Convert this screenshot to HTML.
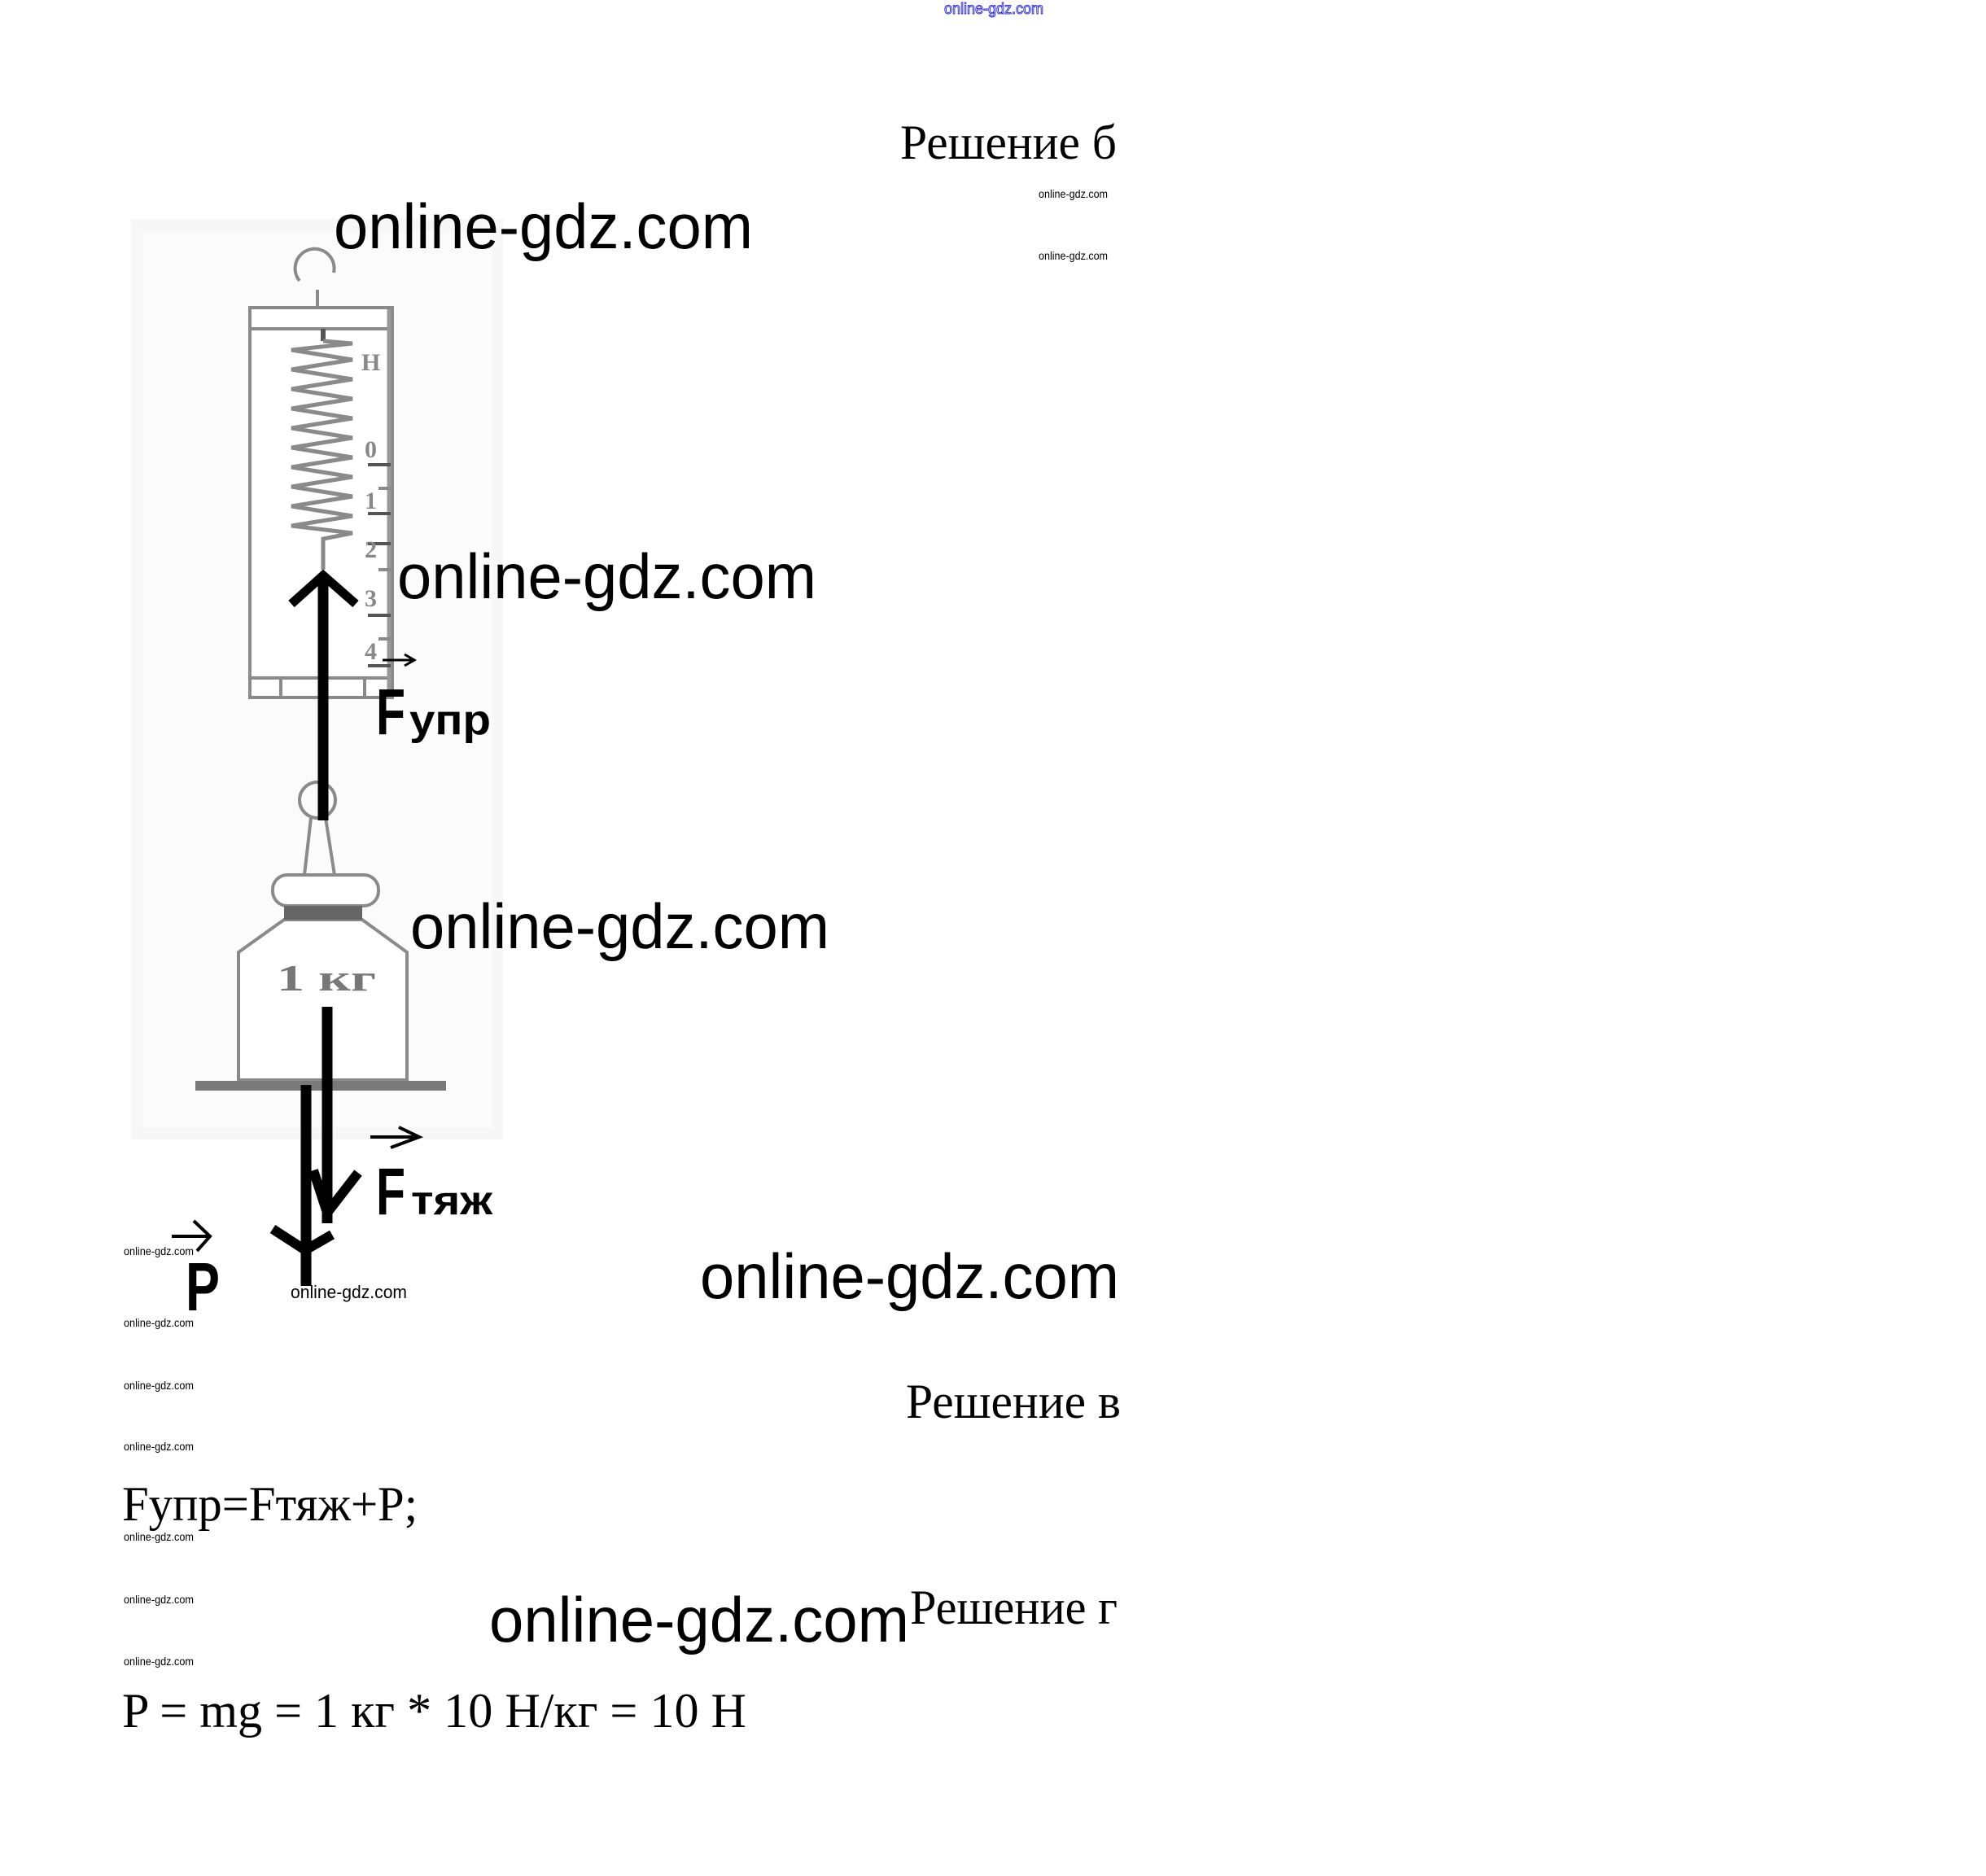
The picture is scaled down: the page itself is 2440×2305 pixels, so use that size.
<!DOCTYPE html>
<html><head><meta charset="utf-8"><style>
html,body{margin:0;padding:0;background:#fff;}
svg{display:block;}
</style></head><body>
<svg width="2440" height="2305" viewBox="0 0 2440 2305" xmlns="http://www.w3.org/2000/svg">
<rect width="2440" height="2305" fill="#fff"/>
<!-- top blue watermark -->
<text x="1160" y="17" font-family="Liberation Sans, sans-serif" font-size="19" fill="#fff" stroke="#3333cc" stroke-width="1" textLength="122" lengthAdjust="spacingAndGlyphs">online-gdz.com</text>

<text x="1106" y="195" font-family="Liberation Serif, serif" font-size="60" fill="#000" textLength="266" lengthAdjust="spacingAndGlyphs">Решение б</text>
<g font-family="Liberation Sans, sans-serif" font-size="14" fill="#000">
<text x="1276" y="243" textLength="85" lengthAdjust="spacingAndGlyphs">online-gdz.com</text>
<text x="1276" y="319" textLength="85" lengthAdjust="spacingAndGlyphs">online-gdz.com</text>
</g>

<!-- diagram background -->
<rect x="161" y="269" width="457" height="1131" fill="#f7f7f7"/>
<rect x="175" y="285" width="430" height="1100" fill="#fbfbfb"/>

<g stroke="#8a8a8a" fill="none" stroke-width="4">
<!-- hook -->
<path d="M368 345 A24 24 0 1 1 410 335"/>
<line x1="390" y1="356" x2="390" y2="378"/>
<!-- box -->
<rect x="307" y="378" width="175" height="479" fill="#fff"/>
<line x1="307" y1="404" x2="482" y2="404"/>
<line x1="307" y1="833" x2="482" y2="833"/>
<line x1="345" y1="833" x2="345" y2="857"/>
<line x1="448" y1="833" x2="448" y2="857"/>
<line x1="478" y1="380" x2="478" y2="855" stroke="#999" stroke-width="5"/>
<!-- spring -->
<line x1="397" y1="404" x2="397" y2="419" stroke="#555" stroke-width="6"/>
<path d="M397 419 L433 422 L358 430 L433 442 L358 454 L433 466 L358 478 L433 490 L358 502 L433 514 L358 526 L433 538 L358 550 L433 562 L358 574 L433 586 L358 598 L433 610 L358 622 L433 634 L358 646 L433 655 L397 662 L397 700" stroke-width="5"/>
<!-- scale ticks -->
<line x1="452" y1="571" x2="480" y2="571" stroke="#555"/>
<line x1="452" y1="631" x2="480" y2="631" stroke="#555"/>
<line x1="452" y1="668" x2="480" y2="668" stroke="#555"/>
<line x1="452" y1="756" x2="480" y2="756" stroke="#555"/>
<line x1="452" y1="818" x2="480" y2="818" stroke="#555"/>
<line x1="465" y1="600" x2="480" y2="600"/>
<line x1="465" y1="700" x2="480" y2="700"/>
<line x1="465" y1="785" x2="480" y2="785"/>
<!-- ring below -->
<circle cx="390" cy="983" r="22"/>
<line x1="382" y1="1005" x2="374" y2="1075"/>
<line x1="400" y1="1005" x2="411" y2="1075"/>
<!-- weight -->
<rect x="335" y="1075" width="130" height="38" rx="18" fill="#fff"/>
<path d="M349 1130 L293 1170 L293 1327 L500 1327 L500 1170 L445 1130 Z" fill="#fff"/>
</g>
<rect x="349" y="1113" width="96" height="17" fill="#666"/>
<line x1="240" y1="1334" x2="548" y2="1334" stroke="#7a7a7a" stroke-width="12"/>
<g font-family="Liberation Serif, serif" fill="#888" font-weight="bold">
<text x="444" y="455" font-size="30">Н</text>
<text x="448" y="562" font-size="30">0</text>
<text x="448" y="625" font-size="30">1</text>
<text x="448" y="685" font-size="30">2</text>
<text x="448" y="745" font-size="30">3</text>
<text x="448" y="810" font-size="30">4</text>
<text x="340" y="1217" font-size="46" fill="#777" textLength="122" lengthAdjust="spacingAndGlyphs">1 кг</text>
</g>

<!-- force arrows -->
<g stroke="#000" fill="none" stroke-linecap="butt">
<line x1="397" y1="1008" x2="397" y2="708" stroke-width="13"/>
<polyline points="358,484 397,710 437,484" stroke-width="0"/>
<polyline points="359,488 397,708 436,488" stroke-width="0"/>
<path d="M358 487 L397 709 L437 487" stroke-width="0"/>
<path d="M358 487 L397 452 L437 487" stroke-width="11" transform="translate(0,255)"/>
<line x1="402" y1="1237" x2="402" y2="1503" stroke-width="13"/>
<path d="M385 1438 L402 1490 L440 1441" stroke-width="12"/>
<line x1="376" y1="1333" x2="376" y2="1580" stroke-width="13"/>
<path d="M335 1510 L375 1536 L408 1517" stroke-width="12"/>
<!-- label arrows -->
<path d="M470 811 L508 811 M497 804 L509 811 L497 818" stroke-width="3"/>
<path d="M455 1397 L515 1397 M490 1385 L515 1397 L480 1410" stroke-width="4"/>
<path d="M211 1519 L258 1519 M238 1500 L258 1519 L242 1537" stroke-width="4"/>
</g>
<g font-family="Liberation Sans, sans-serif" font-weight="bold" fill="#000">
<text x="462" y="902" font-size="80" textLength="36" lengthAdjust="spacingAndGlyphs">F</text>
<text x="503" y="902" font-size="52" textLength="100" lengthAdjust="spacingAndGlyphs">упр</text>
<text x="462" y="1492" font-size="82" textLength="36" lengthAdjust="spacingAndGlyphs">F</text>
<text x="505" y="1492" font-size="50" textLength="100" lengthAdjust="spacingAndGlyphs">тяж</text>
<text x="228" y="1610" font-size="84" textLength="42" lengthAdjust="spacingAndGlyphs">P</text>
</g>

<!-- big watermarks -->
<g font-family="Liberation Sans, sans-serif" font-size="78" fill="#000">
<text x="410" y="305" textLength="515" lengthAdjust="spacingAndGlyphs">online-gdz.com</text>
<text x="488" y="735" textLength="515" lengthAdjust="spacingAndGlyphs">online-gdz.com</text>
<text x="504" y="1165" textLength="515" lengthAdjust="spacingAndGlyphs">online-gdz.com</text>
<text x="860" y="1595" textLength="515" lengthAdjust="spacingAndGlyphs">online-gdz.com</text>
<text x="601" y="2017" textLength="516" lengthAdjust="spacingAndGlyphs">online-gdz.com</text>
</g>
<text x="357" y="1595" font-family="Liberation Sans, sans-serif" font-size="22" fill="#000" textLength="143" lengthAdjust="spacingAndGlyphs">online-gdz.com</text>
<g font-family="Liberation Sans, sans-serif" font-size="14" fill="#000">
<text x="152" y="1542" textLength="86" lengthAdjust="spacingAndGlyphs">online-gdz.com</text>
<text x="152" y="1630" textLength="86" lengthAdjust="spacingAndGlyphs">online-gdz.com</text>
<text x="152" y="1707" textLength="86" lengthAdjust="spacingAndGlyphs">online-gdz.com</text>
<text x="152" y="1782" textLength="86" lengthAdjust="spacingAndGlyphs">online-gdz.com</text>
<text x="152" y="1893" textLength="86" lengthAdjust="spacingAndGlyphs">online-gdz.com</text>
<text x="152" y="1970" textLength="86" lengthAdjust="spacingAndGlyphs">online-gdz.com</text>
<text x="152" y="2046" textLength="86" lengthAdjust="spacingAndGlyphs">online-gdz.com</text>
</g>

<g font-family="Liberation Serif, serif" font-size="60" fill="#000">
<text x="1113" y="1742" textLength="264" lengthAdjust="spacingAndGlyphs">Решение в</text>
<text x="150" y="1868" textLength="363" lengthAdjust="spacingAndGlyphs">Fупр=Fтяж+P;</text>
<text x="1118" y="1995" textLength="255" lengthAdjust="spacingAndGlyphs">Решение г</text>
<text x="150" y="2122" textLength="767" lengthAdjust="spacingAndGlyphs">P = mg = 1 кг * 10 Н/кг = 10 Н</text>
</g>
</svg>
</body></html>
